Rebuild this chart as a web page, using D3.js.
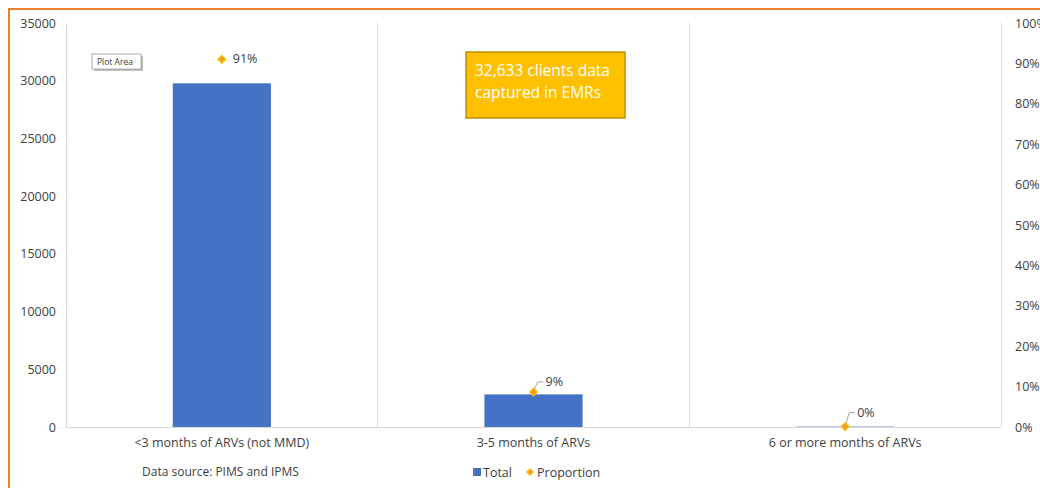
<!DOCTYPE html>
<html>
<head>
<meta charset="utf-8">
<script src="https://cdn.jsdelivr.net/npm/d3@7"></script>
<style>
  html, body { margin: 0; padding: 0; background: #fff; }
  svg { display: block; font-family: "Open Sans", "Noto Sans", sans-serif; }
</style>
</head>
<body>
<svg id="chart" width="1040" height="488"></svg>
<script>
// Clients by ARV dispensing interval
const categories = ["<3 months of ARVs (not MMD)", "3-5 months of ARVs", "6 or more months of ARVs"];
const totals = [29774, 2826, 33];
const proportions = [0.91, 0.0866, 0.001];
const proportionLabels = ["91%", "9%", "0%"];
const leftTicks = [0, 5000, 10000, 15000, 20000, 25000, 30000, 35000];
const rightTicks = [0, 0.1, 0.2, 0.3, 0.4, 0.5, 0.6, 0.7, 0.8, 0.9, 1.0];

const svg = d3.select("#chart");
const W = 1040, H = 488;
const plot = { left: 66, right: 1001, top: 23, bottom: 427 };

const blue = "#4472C4", orange = "#ED7D31", gold = "#FFC000";

// outer frame (left and top edges visible)
svg.append("path")
  .attr("d", `M9,${H} L9,9 L${W},9`)
  .attr("fill", "none").attr("stroke", orange).attr("stroke-width", 2);

const x = d3.scaleBand().domain(categories).range([plot.left, plot.right]).paddingInner(0).paddingOuter(0);
const y = d3.scaleLinear().domain([0, 35000]).range([plot.bottom, plot.top]);
const y2 = d3.scaleLinear().domain([0, 1]).range([plot.bottom, plot.top]);
const barW = x.bandwidth() * 0.315;

// vertical category separators
const seps = categories.map(c => x(c)).concat([plot.right]);
svg.append("g").selectAll("line").data(seps).join("line")
  .attr("x1", d => d).attr("x2", d => d)
  .attr("y1", plot.top).attr("y2", plot.bottom)
  .attr("stroke", "#d9d9d9").attr("stroke-width", 1).attr("shape-rendering", "crispEdges");

// bars
svg.append("g").selectAll("rect").data(totals).join("rect")
  .attr("x", (d, i) => x(categories[i]) + x.bandwidth() / 2 - barW / 2)
  .attr("width", barW)
  .attr("y", d => y(d))
  .attr("height", d => Math.max(1, plot.bottom - y(d)))
  .attr("fill", blue);

// baseline
svg.append("line")
  .attr("x1", plot.left).attr("x2", plot.right)
  .attr("y1", plot.bottom + 0.5).attr("y2", plot.bottom + 0.5)
  .attr("stroke", "#d9d9d9");

// left axis
const leftAxis = svg.append("g")
  .attr("transform", `translate(${plot.left},0)`)
  .call(d3.axisLeft(y).tickValues(leftTicks).tickFormat(d3.format("d")).tickSize(0).tickPadding(10));
leftAxis.select(".domain").remove();
leftAxis.selectAll("text").attr("font-size", 12.5).attr("fill", "#404040")
  .attr("font-family", "'Open Sans', sans-serif");

// right axis
const rightAxis = svg.append("g")
  .attr("transform", `translate(${plot.right},0)`)
  .call(d3.axisRight(y2).tickValues(rightTicks).tickFormat(d3.format(".0%")).tickSize(0).tickPadding(14));
rightAxis.select(".domain").remove();
rightAxis.selectAll("text").attr("font-size", 12.5).attr("fill", "#404040")
  .attr("font-family", "'Open Sans', sans-serif");

// category labels
svg.append("g").selectAll("text").data(categories).join("text")
  .attr("x", d => x(d) + x.bandwidth() / 2)
  .attr("y", 447)
  .attr("text-anchor", "middle")
  .attr("font-size", 12.5).attr("fill", "#404040")
  .text(d => d);

// proportion markers and labels
const px = i => x(categories[i]) + x.bandwidth() / 2;
// square turned 45 degrees gives an even diamond
const diamond = d3.symbol().type(d3.symbolSquare).size(30);

// leader lines for the lower labels
const leaders = [null, { dx: 10, dy: -10 }, { dx: 10, dy: -14 }];
svg.append("g").selectAll("path").data(proportions).join("path")
  .attr("d", (d, i) => {
    const l = leaders[i];
    if (!l) return null;
    const sx = px(i), sy = y2(d);
    return `M${sx},${sy} L${sx + l.dx - 6},${sy + l.dy} L${sx + l.dx},${sy + l.dy}`;
  })
  .attr("fill", "none").attr("stroke", "#a6a6a6").attr("stroke-width", 1);

svg.append("g").selectAll("path").data(proportions).join("path")
  .attr("d", diamond)
  .attr("transform", (d, i) => `translate(${px(i)},${y2(d)}) rotate(45)`)
  .attr("fill", "#F39C2B").attr("stroke", gold).attr("stroke-width", 1.3);

svg.append("g").selectAll("text").data(proportions).join("text")
  .attr("x", (d, i) => px(i) + (leaders[i] ? leaders[i].dx + 2 : 11))
  .attr("y", (d, i) => y2(d) + (leaders[i] ? leaders[i].dy : 0) + 4)
  .attr("font-size", 12.5).attr("fill", "#404040")
  .text((d, i) => proportionLabels[i]);

// callout box
const box = svg.append("g").attr("transform", "translate(466,52)");
box.append("rect").attr("width", 159).attr("height", 66)
  .attr("fill", gold).attr("stroke", "#BF9000").attr("stroke-width", 1.5);
box.append("text").attr("x", 9).attr("y", 24)
  .attr("font-size", 15.5).attr("fill", "#fff").text("32,633 clients data");
box.append("text").attr("x", 9).attr("y", 46)
  .attr("font-size", 15.5).attr("fill", "#fff").text("captured in EMRs");

// "Plot Area" hover tag
const tag = svg.append("g").attr("transform", "translate(92,54)");
tag.append("rect").attr("x", 2).attr("y", 2).attr("width", 49).attr("height", 15).attr("fill", "#bfbfbf");
tag.append("rect").attr("width", 49).attr("height", 15)
  .attr("fill", "#fff").attr("stroke", "#9a9a9a").attr("stroke-width", 0.8);
tag.append("text").attr("x", 5).attr("y", 11).attr("font-size", 8.5).attr("fill", "#404040").text("Plot Area");

// footnote
svg.append("text").attr("x", 142).attr("y", 476)
  .attr("font-size", 12).attr("fill", "#404040").text("Data source: PIMS and IPMS");

// legend
const legend = svg.append("g").attr("transform", "translate(473,472)");
legend.append("rect").attr("x", 0).attr("y", -4).attr("width", 8).attr("height", 8).attr("fill", blue);
legend.append("text").attr("x", 10).attr("y", 5).attr("font-size", 12.5).attr("fill", "#404040").text("Total");
legend.append("path").attr("d", d3.symbol().type(d3.symbolSquare).size(22))
  .attr("transform", "translate(57,0) rotate(45)").attr("fill", "#F39C2B").attr("stroke", gold);
legend.append("text").attr("x", 64).attr("y", 5).attr("font-size", 12.5).attr("fill", "#404040").text("Proportion");
</script>
</body>
</html>
